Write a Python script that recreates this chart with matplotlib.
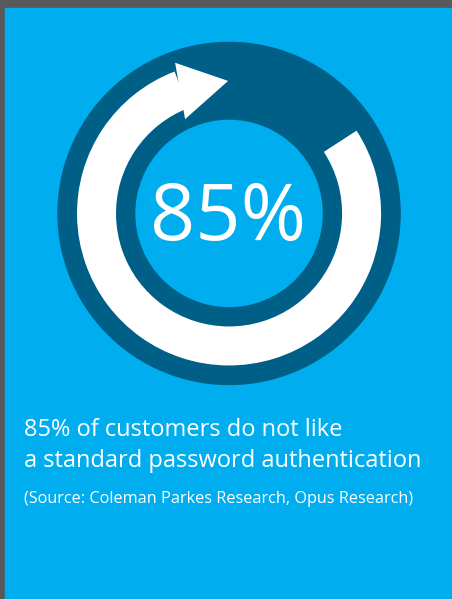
import numpy as np
import matplotlib.pyplot as plt
from matplotlib.patches import Rectangle, Circle, Wedge, Polygon

# chart content
percent = 85
headline = ["85% of customers do not like", "a standard password authentication"]
source = "(Source: Coleman Parkes Research, Opus Research)"

# ring geometry (pixels, y up) and arc angles (degrees)
W, H = 452, 599
cx, cy = 229, 385.5
r_outer, r_white_out, r_white_in, r_inner = 171, 152, 113, 93
arc_start, arc_end = 33, 111          # white arc runs clockwise from start round to end
tip_angle, barb_angles = 90.4, (109.7, 115.0)
barb_radii = (160, 104)

LIGHT = '#00AEEF'
DARK = '#005F87'
GREY = '#58595B'


def polar(r, a):
    t = np.deg2rad(a)
    return cx + r * np.cos(t), cy + r * np.sin(t)


fig = plt.figure(figsize=(W / 100 + 0.001, H / 100 + 0.001), dpi=100)
ax = fig.add_axes([0, 0, 1, 1])
ax.set_xlim(0, W)
ax.set_ylim(0, H)
ax.axis('off')

# grey frame + blue card
ax.add_patch(Rectangle((0, 0), W, H, color=GREY))
ax.add_patch(Rectangle((5, -1), W, H - 7, color=LIGHT))

# dark disc, white arrow arc, inner blue disc
ax.add_patch(Circle((cx, cy), r_outer, color=DARK))
ax.add_patch(Wedge((cx, cy), r_white_out, arc_end, arc_start + 360,
                   width=r_white_out - r_white_in, color='white', lw=0))
head = [polar(barb_radii[0], barb_angles[0]),
        polar((r_white_out + r_white_in) / 2, tip_angle),
        polar(barb_radii[1], barb_angles[1])]
ax.add_patch(Polygon(head, closed=True, color='white', lw=0))
ax.add_patch(Circle((cx, cy), r_inner, color=LIGHT))

ax.text(228, 359, f"{percent}%", color='white', fontsize=57,
        family='Open Sans', ha='center', va='baseline')

ax.text(24, 163, headline[0], color='white', fontsize=17, family='Open Sans', va='baseline')
ax.text(24, 132, headline[1], color='white', fontsize=17, family='Open Sans', va='baseline')
ax.text(24, 96, source, color='white', fontsize=11.7, family='Open Sans', va='baseline')

plt.savefig('out.png', dpi=100)
